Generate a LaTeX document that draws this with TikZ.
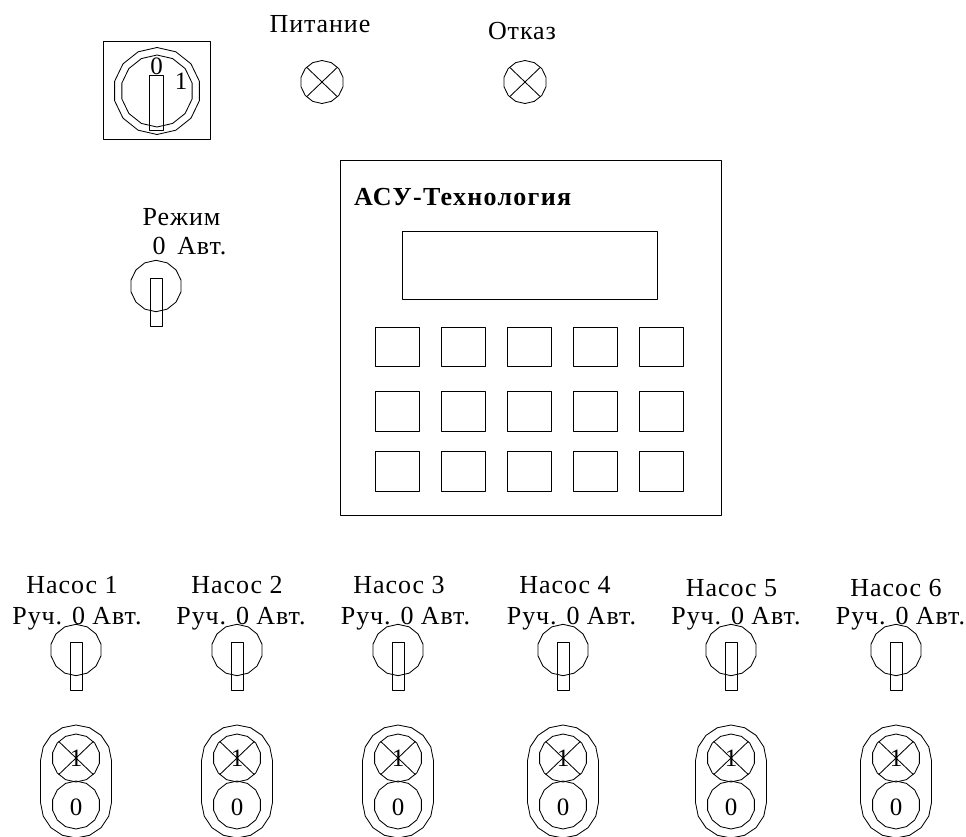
\documentclass[tikz,border=0pt]{standalone}
\usepackage{fontspec}
\setmainfont[LetterSpace=3.5]{Liberation Serif}
\newfontfamily\digitfont{Liberation Serif}
\newfontfamily\titlefont[LetterSpace=5]{Liberation Serif}
\tikzset{
  ink/.style={draw=black,line width=0.85pt,line join=round},
  lbl/.style={inner sep=0pt,anchor=base,font=\fontsize{26}{28}\selectfont,text=black},
  digit/.style={inner sep=0pt,anchor=base,font=\digitfont\fontsize{25}{27}\selectfont,text=black},
  title/.style={inner sep=0pt,anchor=base west,font=\titlefont\fontsize{26}{28}\selectfont\bfseries,text=black}
}
\newcommand{\polyc}[3]{\draw[ink] plot[samples=15,domain=12.86:372.86,variable=\t] ({#1+#3*cos(\t)},{#2+#3*sin(\t)}) -- cycle;}
\newcommand{\crossc}[3]{\draw[ink] ({#1-#3*0.72},{#2-#3*0.69}) -- ({#1+#3*0.72},{#2+#3*0.69}) ({#1-#3*0.72},{#2+#3*0.69}) -- ({#1+#3*0.72},{#2-#3*0.69});}
\newcommand{\knob}[2]{\polyc{#1}{#2}{25.7}\draw[ink] ({#1-6},{#2-8}) rectangle ({#1+6},{#2+40});}
\begin{document}
\begin{tikzpicture}[x=1pt,y=-1pt]
\useasboundingbox (0,0) rectangle (966,836);
\fill[white] (0,0) rectangle (966,836);
% key switch
\draw[ink] (103,41) rectangle (210,139);
\polyc{157}{91}{43.5}
\polyc{157}{91}{36}
\draw[ink] (149.5,75) rectangle (163,130);
\node[digit] (keyzero) at (156.5,74.5) {0};
\node[digit] (keyone) at (181,89) {1};
% lamps
\polyc{322}{82}{21.5}\crossc{322}{82}{21.5}
\polyc{525}{82}{21.5}\crossc{525}{82}{21.5}
\node[lbl] (power) at (320,32.7) {Питание};
\node[lbl] (fault) at (522,39.3) {Отказ};
% mode
\node[lbl] (mode) at (181.5,225) {Режим};
\node[lbl] (modepos) at (189.5,254.7) {0\hspace{0.45em}Авт.};
\knob{156}{286}
% panel
\draw[ink] (340,160) rectangle (721,515);
\draw[ink] (402,231) rectangle (657,299);
\node[title] (brand) at (354,205) {АСУ-Технология};
\foreach \bx in {375,441,507,573,639}
  \foreach \by/\bh in {327/39,391/40,451/40}
    \draw[ink] (\bx,\by) rectangle ++(44,\bh);
% pumps
\foreach \n/\cx/\tx/\ty/\sx/\sy in {1/76/72/593/77/624,2/237/237/593/241/624,3/398/399/593/405.5/624,4/563/565/593/571.5/624,5/731/731.5/596/736/624,6/896/896/596/900.5/624}{
  \node[lbl] (pump\n) at (\tx,\ty) {Насос \n};
  \node[lbl] (state\n) at (\sx,\sy) {Руч. 0 Авт.};
  \knob{\cx}{650}
  \polyc{\cx}{758}{24}\crossc{\cx}{758}{24}
  \polyc{\cx}{805}{24}
  \begin{scope}
    \clip (0,0) rectangle (966,836);
    \draw[ink] plot[samples=9,domain=180:360,variable=\t] ({\cx+35.5*cos(\t)},{760.5+35.5*sin(\t)})
      -- plot[samples=9,domain=0:180,variable=\t] ({\cx+35.5*cos(\t)},{802.5+35.5*sin(\t)}) -- cycle;
  \end{scope}
  \node[digit] (on\n) at (\cx,766.7) {1};
  \node[digit] (off\n) at (\cx,815) {0};
}
\end{tikzpicture}
\end{document}
